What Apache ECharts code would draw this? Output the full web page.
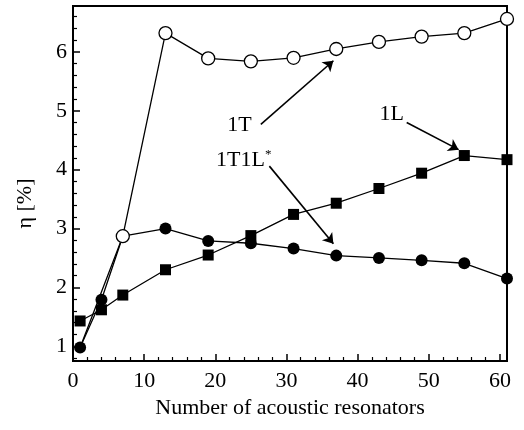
<!DOCTYPE html>
<html>
<head>
<meta charset="utf-8">
<script src="https://cdn.jsdelivr.net/npm/echarts@6/dist/echarts.min.js"></script>
<style>
  html, body { margin: 0; padding: 0; background: #fff; }
  #chart { width: 524px; height: 430px; }
</style>
</head>
<body>
<div id="chart"></div>
<script>
// number of acoustic resonators per series
const x1T = [1, 7, 13, 19, 25, 31, 37, 43, 49, 55, 61]
const eta1T = [0.98, 2.87, 6.32, 5.89, 5.84, 5.90, 6.05, 6.17, 6.26, 6.32, 6.56]

const x1L = [1, 4, 7, 13, 19, 25, 31, 37, 43, 49, 55, 61]
const eta1L = [1.43, 1.62, 1.87, 2.30, 2.55, 2.88, 3.24, 3.43, 3.68, 3.94, 4.24, 4.17]

const x1T1L = [1, 4, 7, 13, 19, 25, 31, 37, 43, 49, 55, 61]
const eta1T1L = [0.98, 1.79, 2.87, 3.00, 2.79, 2.75, 2.66, 2.54, 2.50, 2.46, 2.41, 2.15]

// axis ticks
const xTicks = [0, 10, 20, 30, 40, 50, 60]
const yTicks = [1, 2, 3, 4, 5, 6]

// annotation labels and arrows (data coordinates)
const labels = [
  { text: '1T', at: [23.4, 4.76] },
  { text: '1T1L{s|*}', at: [24.0, 4.16] },
  { text: '1L', at: [44.8, 4.94] }
]
const arrows = [
  [[26.4, 4.77], [36.6, 5.85]],
  [[27.6, 4.06], [36.6, 2.74]],
  [[46.9, 4.80], [54.2, 4.34]]
]

const font = 'Liberation Serif'
const xMinor = []
for (let v = 2; v < 61; v += 2) if (v % 10 !== 0) xMinor.push(v)
const yMinor = []
for (let i = 4; i <= 33; i++) if (i % 5 !== 0) yMinor.push(+(i * 0.2).toFixed(1))

const pairs = (xs, ys) => xs.map((x, i) => [x, ys[i]])

const chart = echarts.init(document.getElementById('chart'))

const xBase = { type: 'value', min: 0, max: 61, position: 'bottom', splitLine: { show: false } }
const yBase = { type: 'value', min: 0.75, max: 6.78, position: 'left', splitLine: { show: false } }

const data1T = pairs(x1T, eta1T)
data1T[0] = { value: data1T[0], symbol: 'none' }

chart.setOption({
  animation: false,
  grid: {
    left: 73, right: 17, top: 6, bottom: 69,
    show: true, borderColor: '#000', borderWidth: 2
  },
  xAxis: [
    Object.assign({}, xBase, {
      name: 'Number of acoustic resonators',
      nameLocation: 'middle',
      nameGap: 28,
      nameTextStyle: { fontFamily: font, fontSize: 22, color: '#000' },
      axisLine: { show: true, lineStyle: { color: '#000', width: 2 } },
      axisTick: { show: true, inside: true, length: 7, customValues: xTicks, lineStyle: { color: '#000', width: 1.5 } },
      axisLabel: { customValues: xTicks, margin: 9, fontFamily: font, fontSize: 22, color: '#000' }
    }),
    Object.assign({}, xBase, {
      axisLine: { show: false },
      axisTick: { show: true, inside: true, length: 4, customValues: xMinor, lineStyle: { color: '#000', width: 1.2 } },
      axisLabel: { show: false }
    })
  ],
  yAxis: [
    Object.assign({}, yBase, {
      name: 'η [%]',
      nameLocation: 'middle',
      nameGap: 37,
      nameTextStyle: { fontFamily: font, fontSize: 22, color: '#000', padding: [0, 40, 0, 0] },
      axisLine: { show: true, lineStyle: { color: '#000', width: 2 } },
      axisTick: { show: true, inside: true, length: 7, customValues: yTicks, lineStyle: { color: '#000', width: 1.5 } },
      axisLabel: { customValues: yTicks, margin: 6, fontFamily: font, fontSize: 22, color: '#000' }
    }),
    Object.assign({}, yBase, {
      axisLine: { show: false },
      axisTick: { show: true, inside: true, length: 4, customValues: yMinor, lineStyle: { color: '#000', width: 1.2 } },
      axisLabel: { show: false }
    })
  ],
  series: [
    {
      name: '1L',
      type: 'line',
      data: pairs(x1L, eta1L),
      symbol: 'rect',
      symbolSize: 11,
      itemStyle: { color: '#000' },
      lineStyle: { color: '#000', width: 1.3 }
    },
    {
      name: '1T1L',
      type: 'line',
      data: pairs(x1T1L, eta1T1L),
      symbol: 'circle',
      symbolSize: 12,
      itemStyle: { color: '#000' },
      lineStyle: { color: '#000', width: 1.3 }
    },
    {
      name: '1T',
      type: 'line',
      data: data1T,
      symbol: 'circle',
      symbolSize: 13,
      itemStyle: { color: '#fff', borderColor: '#000', borderWidth: 1.3 },
      lineStyle: { color: '#000', width: 1.3 },
      markLine: {
        silent: true,
        symbol: ['none', 'arrow'],
        symbolSize: 10,
        label: { show: false },
        lineStyle: { color: '#000', width: 1.6, type: 'solid' },
        data: arrows.map(a => [{ coord: a[0] }, { coord: a[1] }])
      },
      markPoint: {
        silent: true,
        symbol: 'circle',
        symbolSize: 0,
        label: {
          show: true,
          position: 'inside',
          fontFamily: font,
          fontSize: 22,
          color: '#000',
          formatter: p => p.name,
          rich: { s: { fontFamily: font, fontSize: 13, color: '#000', padding: [0, 0, 12, 0] } }
        },
        data: labels.map(l => ({ name: l.text, coord: l.at }))
      }
    }
  ]
})
</script>
</body>
</html>
